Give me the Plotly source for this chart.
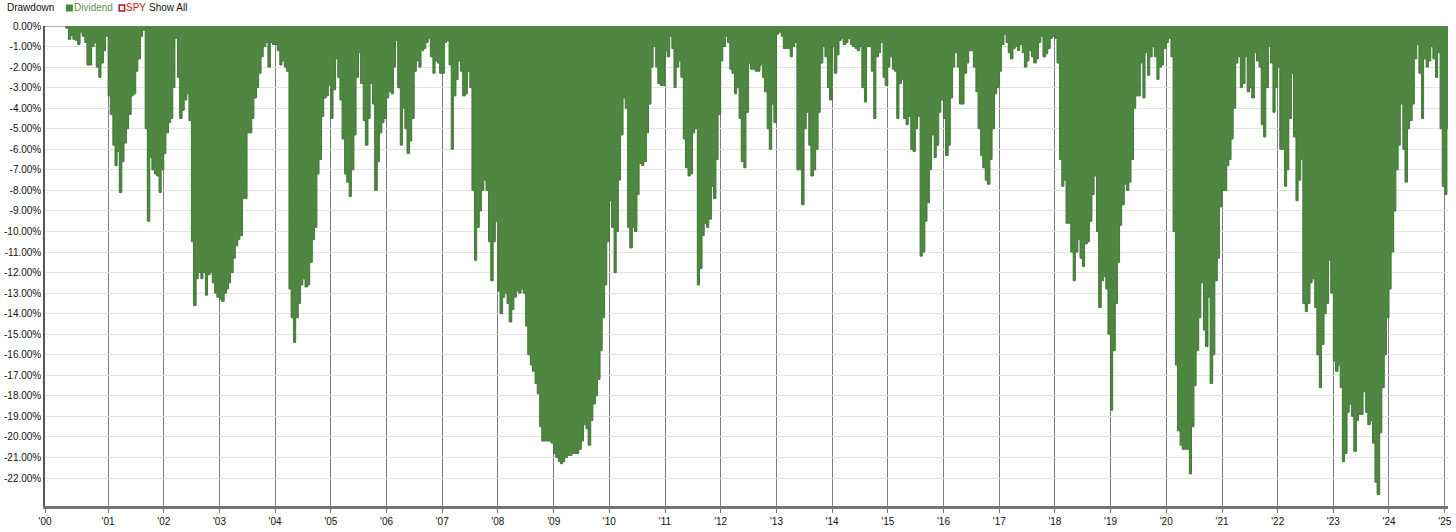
import pandas as pd
import plotly.graph_objects as go

# Drawdown (%) of the "Dividend" series, semi-monthly readings (1st / 15th of each month)
d2000 = [-0.1, -0.65, -0.45, -0.65, -0.7, -0.9, -0.3, -0.5, -0.8, -1.9, -1.9, -1.0, -0.8, -2.0, -2.5, -1.8, -1.2, -0.5]
d2001 = [-3.4, -4.3, -5.8, -6.8, -6.1, -8.1, -6.6, -5.7, -5.0, -4.3, -3.4, -3.3, -2.2, -1.6, -0.5, -0.2, -5.0, -9.5, -6.4, -7.0, -7.2, -7.3, -8.1, -7.0]
d2002 = [-6.2, -5.2, -4.7, -4.5, -3.0, -0.6, -2.5, -4.5, -4.1, -3.6, -3.3, -4.6, -10.5, -13.6, -12.3, -12.0, -12.3, -12.0, -13.1, -12.1, -12.0, -12.5, -13.0, -13.2]
d2003 = [-13.3, -13.4, -13.0, -12.8, -12.5, -12.0, -11.3, -10.7, -10.4, -10.2, -8.4, -8.4, -5.2, -5.2, -4.5, -3.5, -3.0, -2.3, -1.5, -1.0, -0.8, -2.0, -0.8, -0.9]
d2004 = [-0.9, -1.2, -1.9, -1.7, -2.0, -2.2, -12.8, -14.2, -15.4, -14.2, -13.5, -12.6, -12.3, -12.7, -12.6, -11.5, -10.4, -9.8, -7.2, -6.5, -4.4, -3.5, -3.4, -2.9]
d2005 = [-4.5, -3.1, -1.6, -2.5, -3.6, -5.5, -7.2, -7.6, -8.3, -7.0, -5.3, -2.5, -1.3, -2.8, -4.6, -5.8, -4.5, -2.8, -3.8, -8.0, -6.6, -5.2, -4.7, -4.5]
d2006 = [-3.5, -3.2, -3.3, -2.0, -0.7, -3.0, -5.8, -4.0, -5.0, -6.2, -5.6, -4.5, -2.2, -1.7, -2.0, -1.2, -1.1, -0.8, -0.6, -1.5, -2.3, -1.7, -1.8, -2.3]
d2007 = [-2.3, -0.8, -0.7, -1.9, -6.0, -3.4, -2.6, -1.7, -2.2, -3.4, -3.3, -2.2, -3.0, -8.0, -11.4, -9.8, -9.0, -8.0, -7.5, -8.0, -10.5, -12.4, -10.5, -9.5]
d2008 = [-12.9, -14.0, -13.2, -13.0, -13.5, -14.4, -13.8, -13.2, -12.9, -13.0, -12.8, -13.0, -14.6, -16.0, -16.5, -16.8, -17.4, -17.9, -19.5, -20.2, -20.2, -20.2, -20.2, -20.3]
d2009 = [-20.8, -21.0, -21.2, -21.3, -21.2, -21.0, -20.9, -20.9, -20.8, -20.8, -20.8, -20.6, -20.2, -19.4, -19.6, -20.4, -19.2, -18.4, -18.0, -17.2, -15.8, -14.2, -12.6, -10.5]
d2010 = [-8.5, -9.8, -12.0, -10.0, -7.5, -5.3, -3.5, -4.0, -9.8, -10.8, -9.8, -10.0, -8.2, -6.7, -6.8, -6.6, -5.2, -3.8, -2.0, -1.0, -2.0, -2.8, -2.9, -2.9]
d2011 = [-1.2, -1.5, -0.5, -1.1, -3.0, -2.0, -1.7, -2.5, -5.5, -6.9, -7.3, -7.2, -5.2, -5.0, -12.6, -11.8, -10.2, -9.6, -9.8, -9.4, -7.8, -8.4, -6.5, -4.3]
d2012 = [-1.7, -1.0, -0.5, -0.8, -2.1, -2.3, -3.3, -3.0, -4.5, -6.6, -6.9, -4.2, -1.8, -2.1, -2.1, -2.2, -2.2, -1.9, -2.5, -3.2, -5.0, -6.0, -3.8, -4.7]
d2013 = [-0.4, -0.3, -0.5, -1.1, -1.1, -1.1, -1.5, -1.0, -0.8, -7.0, -7.0, -8.7, -5.0, -4.2, -5.8, -7.3, -7.0, -6.0, -4.2, -1.8, -1.0, -1.5, -3.0, -3.6]
d2014 = [-1.0, -2.3, -1.4, -0.7, -0.6, -0.9, -0.8, -0.6, -0.9, -1.0, -1.1, -1.2, -1.0, -3.0, -3.7, -1.0, -1.0, -2.2, -4.5, -1.5, -1.3, -0.8, -2.5, -2.9]
d2015 = [-2.0, -1.5, -2.1, -2.2, -4.5, -2.8, -2.6, -4.5, -4.8, -4.4, -6.0, -6.1, -5.0, -4.4, -11.2, -11.0, -9.5, -8.6, -7.0, -5.3, -6.4, -5.8, -4.2, -3.6]
d2016 = [-4.5, -6.3, -5.8, -3.5, -2.0, -1.3, -2.0, -3.8, -3.8, -2.3, -1.8, -1.2, -1.2, -2.0, -3.2, -5.0, -6.3, -6.9, -7.5, -7.7, -6.5, -5.0, -3.3, -3.0]
d2017 = [-2.2, -0.9, -0.4, -0.8, -1.3, -1.6, -1.1, -1.0, -1.2, -0.9, -1.3, -2.0, -1.7, -1.2, -1.5, -1.8, -1.6, -0.8, -0.5, -1.5, -1.35, -1.1, -0.6, -0.5]
d2018 = [-0.6, -1.8, -6.5, -7.8, -7.5, -9.6, -9.6, -11.0, -12.4, -11.0, -10.4, -11.3, -11.7, -10.6, -10.5, -9.5, -8.2, -7.3, -10.0, -13.7, -12.4, -12.2, -12.8, -15.0]
d2019 = [-18.7, -15.8, -13.5, -11.5, -9.7, -8.7, -7.7, -8.0, -7.6, -6.5, -4.0, -3.4, -3.4, -1.8, -3.5, -1.3, -2.4, -1.5, -1.0, -1.5, -2.6, -2.0, -1.9, -1.1]
d2020 = [-0.8, -0.6, -1.5, -10.0, -16.5, -19.7, -20.4, -20.6, -20.6, -20.6, -21.8, -19.5, -17.5, -15.8, -14.2, -12.5, -14.8, -15.6, -13.2, -17.4, -16.0, -12.4, -11.3, -8.8]
d2021 = [-8.0, -8.0, -6.8, -6.5, -5.5, -4.0, -1.8, -1.5, -3.0, -2.8, -1.5, -3.2, -3.0, -3.5, -1.3, -1.7, -2.0, -4.8, -5.4, -3.0, -1.0, -1.8, -4.2, -3.0]
d2022 = [-2.0, -6.0, -6.0, -7.8, -7.0, -4.5, -2.3, -5.4, -8.5, -7.5, -6.5, -13.5, -13.9, -13.5, -12.5, -12.3, -13.7, -16.0, -17.6, -15.5, -14.0, -13.5, -11.4, -13.0]
d2023 = [-16.3, -16.8, -16.5, -17.6, -21.2, -20.8, -18.8, -18.4, -19.0, -20.7, -19.2, -18.9, -18.9, -17.8, -18.8, -19.4, -19.2, -20.3, -22.2, -22.8, -19.8, -17.6, -16.0, -14.2]
d2024 = [-12.8, -11.0, -9.0, -7.0, -5.8, -3.8, -6.0, -7.6, -5.0, -4.6, -3.8, -1.6, -0.9, -2.3, -4.5, -1.6, -2.0, -1.7, -1.0, -1.6, -2.5, -1.3, -5.0, -7.8]
d2025 = [-8.2, -5.0, -5.0]

series_by_year = {
    2000: d2000, 2001: d2001, 2002: d2002, 2003: d2003, 2004: d2004, 2005: d2005,
    2006: d2006, 2007: d2007, 2008: d2008, 2009: d2009, 2010: d2010, 2011: d2011,
    2012: d2012, 2013: d2013, 2014: d2014, 2015: d2015, 2016: d2016, 2017: d2017,
    2018: d2018, 2019: d2019, 2020: d2020, 2021: d2021, 2022: d2022, 2023: d2023,
    2024: d2024, 2025: d2025,
}
first_date = "2000-03-25"

x_tick_dates = ["1999-11-14"] + [f"{y}-01-01" for y in range(2001, 2026)]
x_tick_labels = ["'00", "'01", "'02", "'03", "'04", "'05", "'06", "'07", "'08", "'09", "'10",
                 "'11", "'12", "'13", "'14", "'15", "'16", "'17", "'18", "'19", "'20",
                 "'21", "'22", "'23", "'24", "'25"]
y_tick_vals = [0, -1, -2, -3, -4, -5, -6, -7, -8, -9, -10, -11, -12, -13, -14, -15, -16,
               -17, -18, -19, -20, -21, -22]
y_tick_labels = [f"{v:.2f}%" for v in y_tick_vals]

dates, vals = [], []
for yr, arr in series_by_year.items():
    if yr == 2000:
        dr = [pd.Timestamp(first_date)] + list(pd.date_range("2000-04-15", periods=len(arr) - 1, freq="SMS"))
    else:
        dr = list(pd.date_range(f"{yr}-01-01", periods=len(arr), freq="SMS"))
    dates.extend(dr)
    vals.extend(arr)

GREEN = "#4f8642"
FONT = "Arial, Liberation Sans, sans-serif"

fig = go.Figure()
fig.add_trace(go.Scatter(
    x=dates, y=vals, mode="lines",
    line=dict(shape="hv", color="#3f7a34", width=1),
    fill="tozeroy", fillcolor=GREEN,
    hoverinfo="skip", showlegend=False, name="Dividend",
))

L, R, T, B = 42, 4, 26, 26
W, H = 1456, 532
pw, ph = W - L - R, H - T - B

def px(xp):
    return (xp - L) / pw

def py(yp):
    return (H - B - yp) / ph

fig.update_layout(
    width=W, height=H,
    margin=dict(l=L, r=R, t=T, b=B, pad=0),
    paper_bgcolor="white", plot_bgcolor="white",
    font=dict(family=FONT, size=10, color="#111"),
    showlegend=False,
    xaxis=dict(
        type="date", range=["1999-11-14", "2025-01-22"],
        tickmode="array", tickvals=x_tick_dates, ticktext=x_tick_labels,
        showgrid=True, gridcolor="#7c7c7c", gridwidth=1,
        showline=True, linecolor="#767676", linewidth=2.5,
        ticks="outside", ticklen=4, tickcolor="#767676",
        tickfont=dict(family=FONT, size=10, color="#111"),
        zeroline=False, fixedrange=True,
    ),
    yaxis=dict(
        range=[-23.36, 0],
        tickmode="array", tickvals=y_tick_vals, ticktext=y_tick_labels,
        showgrid=True, gridcolor="#e3e3e3", gridwidth=1,
        showline=True, linecolor="#555", linewidth=1.5,
        ticks="", tickfont=dict(family=FONT, size=10, color="#111"),
        zeroline=False, fixedrange=True,
    ),
)

# grey zero reference before the series starts
fig.add_shape(type="line", xref="paper", yref="y", x0=0, x1=px(63), y0=0, y1=0,
              line=dict(color="#a8a8a8", width=2), layer="below")

# header legend
ylab = py(8)
fig.add_annotation(x=px(2), y=ylab, xref="paper", yref="paper", text="Drawdown",
                   showarrow=False, xanchor="left", yanchor="middle",
                   font=dict(family=FONT, size=10, color="#111"))
fig.add_shape(type="rect", xref="paper", yref="paper",
              x0=px(63), x1=px(70), y0=py(11.5), y1=py(4.5),
              fillcolor=GREEN, line=dict(width=0))
fig.add_annotation(x=px(69), y=ylab, xref="paper", yref="paper", text="Dividend",
                   showarrow=False, xanchor="left", yanchor="middle",
                   font=dict(family=FONT, size=10, color="#5e9150"))
fig.add_shape(type="rect", xref="paper", yref="paper",
              x0=px(116.5), x1=px(122), y0=py(11), y1=py(5),
              fillcolor="white", line=dict(width=1.5, color="#b0142a"))
fig.add_annotation(x=px(121), y=ylab, xref="paper", yref="paper", text="SPY",
                   showarrow=False, xanchor="left", yanchor="middle",
                   font=dict(family=FONT, size=10, color="#c0142a"))
fig.add_annotation(x=px(145), y=ylab, xref="paper", yref="paper", text="Show All",
                   showarrow=False, xanchor="left", yanchor="middle",
                   font=dict(family=FONT, size=10, color="#111"))

fig.write_html("out.html", config={"displayModeBar": False},
               post_script="document.body.style.margin='0';")
